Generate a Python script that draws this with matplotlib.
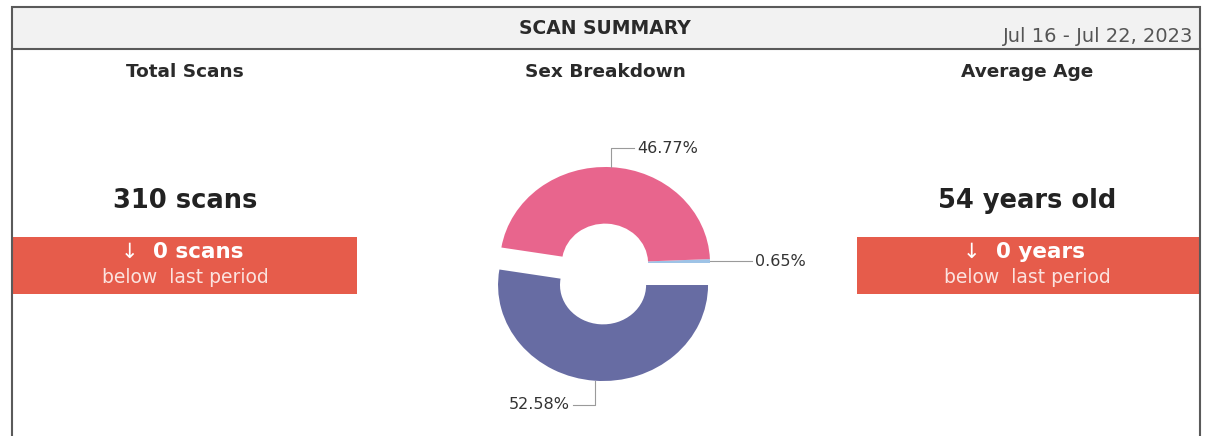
import numpy as np
import matplotlib
matplotlib.use('Agg')
import matplotlib.pyplot as plt
from matplotlib.patches import Rectangle

# chart data
header_title = 'SCAN SUMMARY'
date_range = 'Jul 16 - Jul 22, 2023'
panel_titles = ['Total Scans', 'Sex Breakdown', 'Average Age']

total_scans = 310
scans_change = 0
avg_age = 54
age_change = 0

sex_labels = ['Other', 'Female', 'Male']
sex_pct = [0.65, 46.77, 52.58]
sex_colors = ['#9ec3e6', '#e8658d', '#676ca3']

RED = '#e65c4b'
EDGE = '#5a5a5a'
W, H = 1209, 436

fig = plt.figure(figsize=(W / 100, H / 100), dpi=100)
bg = fig.add_axes([0, 0, 1, 1])
bg.set_xlim(0, W)
bg.set_ylim(H, 0)
bg.axis('off')

# header box + frame
bg.add_patch(Rectangle((12, 7), 1188, 42, facecolor='#f2f2f2', edgecolor=EDGE, lw=1.5))
bg.plot([12, 12], [49, H], color=EDGE, lw=1.5)
bg.plot([1200, 1200], [49, H], color=EDGE, lw=1.5)

bg.text(605, 28, header_title, ha='center', va='center', fontsize=13.5,
        fontweight='bold', color='#2a2a2a')
bg.text(1193, 37, date_range, ha='right', va='center', fontsize=14, color='#555')

for x, t in zip([185, 605, 1027], panel_titles):
    bg.text(x, 72, t, ha='center', va='center', fontsize=13.3, fontweight='bold', color='#2a2a2a')

# kpi panels
def kpi(xc, x0, x1, big, change):
    bg.text(xc, 201, big, ha='center', va='center', fontsize=18.5,
            fontweight='bold', color='#222')
    bg.add_patch(Rectangle((x0, 237), x1 - x0, 57, facecolor=RED, edgecolor='none'))
    bg.text(xc - 56, 252, '\u2193', ha='center', va='center', fontsize=15,
            color='white')
    bg.text(xc + 13, 252, change, ha='center', va='center', fontsize=15.5,
            fontweight='bold', color='white')
    bg.text(xc, 277, 'below  last period', ha='center', va='center',
            fontsize=13.5, color='#fbe3df')

kpi(185, 12, 357, f'{total_scans} scans', f'{scans_change} scans')
kpi(1027, 857, 1199, f'{avg_age} years old', f'{age_change} years')

# donut
cx, cy, rx, ry = 605, 263, 105, 96
pax = fig.add_axes([(cx - 150) / W, (H - cy - 150) / H, 300 / W, 300 / H])
wedges, _ = pax.pie(sex_pct, colors=sex_colors, startangle=0, counterclock=True,
                    explode=[0, 0, 0.23], wedgeprops=dict(width=0.59, edgecolor='none'))
pax.set_aspect('auto')
pax.set_xlim(-150 / rx, 150 / rx)
pax.set_ylim(-150 / ry, 150 / ry)
pax.axis('off')

# label elbows in pixels: (dx, dy up)
layout = {'Other': [(42, 0)], 'Female': [(0, 19), (23, 0)], 'Male': [(0, -24), (-22, 0)]}
for w, lab, pct in zip(wedges, sex_labels, sex_pct):
    ang = np.deg2rad((w.theta1 + w.theta2) / 2)
    px = w.center[0] + w.r * np.cos(ang)
    py = w.center[1] + w.r * np.sin(ang)
    xs, ys = [px], [py]
    for dx, dy in layout[lab]:
        xs.append(xs[-1] + dx / rx)
        ys.append(ys[-1] + dy / ry)
    pax.plot(xs, ys, color='#9a9a9a', lw=0.8, clip_on=False)
    ha = 'right' if xs[-1] < xs[-2] else 'left'
    off = -3 / rx if ha == 'right' else 3 / rx
    pax.text(xs[-1] + off, ys[-1], f'{pct:.2f}%', ha=ha, va='center',
             fontsize=11.5, color='#333')

fig.savefig('out.png', dpi=100)
